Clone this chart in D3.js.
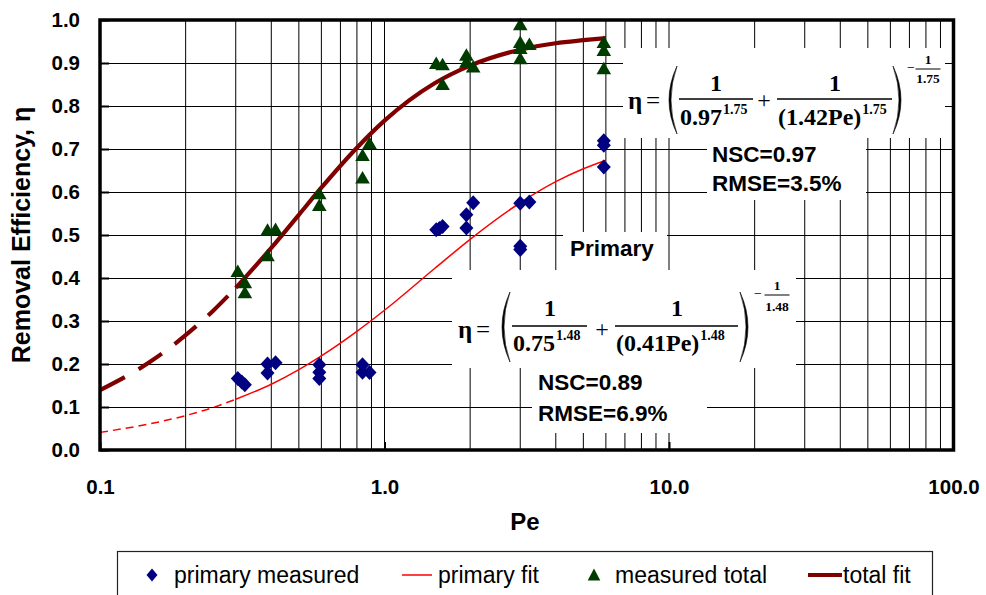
<!DOCTYPE html>
<html><head><meta charset="utf-8">
<script src="https://cdn.jsdelivr.net/npm/d3@7/dist/d3.min.js"></script>
<style>
html,body{margin:0;padding:0;background:#fff;}
svg{display:block;}
</style>
</head><body>
<svg id="chart" width="986" height="595"></svg>
<script>
// ---------------- data ----------------
const primaryPe  = [0.305,0.315,0.323, 0.388,0.388,0.414, 0.59,0.59,0.59, 0.837,0.837,0.886, 1.52,1.56,1.60, 1.94,1.94,2.05, 3.0,3.23,3.0,3.0, 5.9,5.9,5.9];
const primaryEta = [0.166,0.158,0.152, 0.179,0.200,0.203, 0.198,0.181,0.166, 0.198,0.181,0.180, 0.512,0.515,0.520, 0.547,0.516,0.575, 0.574,0.577,0.474,0.466, 0.719,0.709,0.658];

const totalPe  = [0.305,0.323,0.323, 0.388,0.388,0.414, 0.59,0.59, 0.837,0.837,0.886, 1.52,1.60,1.60, 1.94,1.94,2.05, 3.0,3.0,3.0,3.0,3.23, 5.9,5.9,5.9];
const totalEta = [0.416,0.390,0.367, 0.453,0.512,0.514, 0.597,0.570, 0.686,0.634,0.714, 0.900,0.897,0.851, 0.919,0.903,0.892, 0.990,0.949,0.935,0.911,0.944, 0.949,0.930,0.888];

// fitted curves (extrapolated dashed part, and solid part over data range)
const fitPeExt        = [0.1, 0.15, 0.2, 0.25, 0.3];
const totalFitExt     = [0.139, 0.205, 0.267, 0.324, 0.377];
const primaryFitExt   = [0.041, 0.061, 0.080, 0.099, 0.118];
const fitPe           = [0.3, 0.4, 0.5, 0.6, 0.8, 1, 1.5, 2, 3, 4, 5, 6];
const totalFit        = [0.377, 0.470, 0.547, 0.610, 0.703, 0.766, 0.853, 0.894, 0.931, 0.946, 0.953, 0.958];
const primaryFit      = [0.118, 0.153, 0.187, 0.219, 0.276, 0.325, 0.422, 0.490, 0.575, 0.624, 0.654, 0.674];

const xTickValues = [0.1, 1, 10, 100];
const xTickLabels = ["0.1", "1.0", "10.0", "100.0"];
const yTickValues = [0,0.1,0.2,0.3,0.4,0.5,0.6,0.7,0.8,0.9,1.0];

const legendLabels = ["primary measured", "primary fit", "measured total", "total fit"];

// ---------------- setup ----------------
const SANS = "'Liberation Sans', Arial, sans-serif";
const SERIF = "'Liberation Serif', 'Times New Roman', serif";
const svg = d3.select("#chart");
const L = 100, R = 953.5, T = 20, B = 450;
const x = d3.scaleLog().domain([0.1, 100]).range([L, R]);
const y = d3.scaleLinear().domain([0, 1]).range([B, T]);

svg.append("rect").attr("width", 986).attr("height", 595).attr("fill", "#fff");

// grid
const grid = svg.append("g");
grid.selectAll("line.v").data(x.ticks()).join("line")
  .attr("x1", d => x(d)).attr("x2", d => x(d)).attr("y1", T).attr("y2", B)
  .attr("stroke", "#000").attr("stroke-width", 1);
grid.selectAll("line.h").data(y.ticks(10)).join("line")
  .attr("x1", L).attr("x2", R).attr("y1", d => Math.round(y(d)) + 0.5).attr("y2", d => Math.round(y(d)) + 0.5)
  .attr("stroke", "#000").attr("stroke-width", 1);

// white annotation boxes
const boxes = [
  [623, 48, 945, 138],
  [707, 138, 866, 200],
  [563, 232, 667, 270],
  [452, 270, 796, 368],
  [532, 368, 707, 433]
];
svg.append("g").selectAll("rect").data(boxes).join("rect")
  .attr("x", d => d[0]).attr("y", d => d[1]).attr("width", d => d[2] - d[0]).attr("height", d => d[3] - d[1])
  .attr("fill", "#fff");

// fit lines
const line = d3.line().x(d => x(d[0])).y(d => y(d[1])).curve(d3.curveMonotoneX);
const zip = (a, b) => a.map((v, i) => [v, b[i]]);

svg.append("path").datum(zip(fitPeExt, primaryFitExt)).attr("d", line)
  .attr("fill", "none").attr("stroke", "#ff0000").attr("stroke-width", 1.5).attr("stroke-dasharray", "8,5");
svg.append("path").datum(zip(fitPe, primaryFit)).attr("d", line)
  .attr("fill", "none").attr("stroke", "#ff0000").attr("stroke-width", 1.5);
svg.append("path").datum(zip(fitPeExt, totalFitExt)).attr("d", line)
  .attr("fill", "none").attr("stroke", "#800000").attr("stroke-width", 4.2).attr("stroke-dasharray", "28,16");
svg.append("path").datum(zip(fitPe, totalFit)).attr("d", line)
  .attr("fill", "none").attr("stroke", "#800000").attr("stroke-width", 4.2);

// markers
const diamond = "M0,-7.5L7,0L0,7.5L-7,0Z";
const triangle = "M0,-6.5L7.3,6L-7.3,6Z";
svg.append("g").selectAll("path").data(zip(primaryPe, primaryEta)).join("path")
  .attr("d", diamond).attr("transform", d => `translate(${x(d[0])},${y(d[1])})`)
  .attr("fill", "#000080");
svg.append("g").selectAll("path").data(zip(totalPe, totalEta)).join("path")
  .attr("d", triangle).attr("transform", d => `translate(${x(d[0])},${y(d[1])})`)
  .attr("fill", "#003c00");

// axes (labels + inner ticks)
const yAxis = d3.axisLeft(y).tickValues(yTickValues).tickFormat(d3.format(".1f"))
  .tickSizeInner(-9).tickSizeOuter(0).tickPadding(20);
const gy = svg.append("g").attr("transform", `translate(${L},0)`).call(yAxis);
const xAxis = d3.axisBottom(x).tickValues(xTickValues).tickFormat((d, i) => xTickLabels[i])
  .tickSizeInner(-8).tickSizeOuter(0).tickPadding(29);
const gx = svg.append("g").attr("transform", `translate(0,${B})`).call(xAxis);
[gx, gy].forEach(g => {
  g.select(".domain").remove();
  g.selectAll(".tick line").attr("stroke", "#000").attr("stroke-width", 2);
  g.selectAll(".tick text").attr("font-family", SANS).attr("font-weight", "bold")
    .attr("font-size", 20.5).attr("fill", "#000");
});

// frame
svg.append("rect").attr("x", L).attr("y", T).attr("width", R - L).attr("height", B - T)
  .attr("fill", "none").attr("stroke", "#000").attr("stroke-width", 3.5);

// axis titles
svg.append("text").attr("x", 525).attr("y", 530).attr("text-anchor", "middle")
  .attr("font-family", SANS).attr("font-weight", "bold").attr("font-size", 24).text("Pe");
svg.append("text").attr("transform", "translate(30,235) rotate(-90)").attr("text-anchor", "middle")
  .attr("font-family", SANS).attr("font-weight", "bold").attr("font-size", 25).text("Removal Efficiency, η");

// ---------------- equations ----------------
function txt(g, s, xx, yy, size, anchor, family, weight) {
  return g.append("text").attr("x", xx).attr("y", yy).attr("font-size", size)
    .attr("font-family", family || SERIF).attr("font-weight", weight || "bold")
    .attr("text-anchor", anchor || "start").attr("fill", "#000").text(s);
}
function paren(g, x0, y0, y1, dir) {
  const ym = (y0 + y1) / 2;
  const o = x0 - dir * 16, i = x0 - dir * 12;
  g.append("path").attr("d", `M${x0},${y0}Q${o},${ym} ${x0},${y1}Q${i},${ym} ${x0},${y0}Z`)
    .attr("fill", "#000").attr("stroke", "#000").attr("stroke-width", 0.6);
}
function hbar(g, x1, x2, yy, w) {
  g.append("line").attr("x1", x1).attr("x2", x2).attr("y1", yy).attr("y2", yy)
    .attr("stroke", "#000").attr("stroke-width", w || 1.4);
}
function baseSup(g, base, sup, xx, yy, sy) {
  const t = txt(g, base, xx, yy, 24, "start");
  const w = t.node().getComputedTextLength();
  txt(g, sup, xx + w + 1, sy, 14, "start");
}
function equation(o) {
  const g = svg.append("g");
  txt(g, "η", o.eta, o.base, 25);
  txt(g, "=", o.eq, o.base, 25, "start", SERIF, "normal");
  paren(g, o.lp, o.pt, o.pb, 1);
  paren(g, o.rp, o.pt, o.pb, -1);
  // fraction 1
  txt(g, "1", o.n1, o.nb, 24, "middle");
  hbar(g, o.b1[0], o.b1[1], o.bar);
  baseSup(g, o.d1, o.exp, o.b1[0] + 1, o.db, o.sb);
  txt(g, "+", o.plus, o.base - 1, 24, "middle", SERIF, "normal");
  // fraction 2
  txt(g, "1", o.n2, o.nb, 24, "middle");
  hbar(g, o.b2[0], o.b2[1], o.bar);
  baseSup(g, o.d2, o.exp, o.b2[0] + 1, o.db, o.sb);
  // outer exponent  -1/exp
  txt(g, "\u2212", o.mx, o.my, 14, "end", SERIF, "normal");
  txt(g, "1", o.ex, o.e1, 13.5, "middle");
  hbar(g, o.ex - 12.5, o.ex + 12.5, o.ebar, 1);
  txt(g, o.exp, o.ex, o.e2, 13.5, "middle");
}
equation({eta: 628, eq: 646, base: 109, lp: 677, rp: 893, pt: 66, pb: 134,
  n1: 716, b1: [679, 753], d1: "0.97", n2: 835, b2: [777, 892], d2: "(1.42Pe)",
  nb: 91, bar: 99, db: 125, sb: 114, exp: "1.75", plus: 764,
  mx: 915, my: 72, ex: 928, e1: 64, ebar: 69, e2: 83});
equation({eta: 458, eq: 476, base: 338, lp: 510, rp: 740, pt: 292, pb: 362,
  n1: 550, b1: [512, 587], d1: "0.75", n2: 677, b2: [615, 738], d2: "(0.41Pe)",
  nb: 316, bar: 326, db: 351, sb: 340, exp: "1.48", plus: 602,
  mx: 762, my: 298, ex: 777, e1: 290, ebar: 295, e2: 311});

// stats text
const ann = svg.append("g");
txt(ann, "NSC=0.97", 712, 162, 22.5, "start", SANS);
txt(ann, "RMSE=3.5%", 712, 191, 22.5, "start", SANS);
txt(ann, "NSC=0.89", 538, 390, 22.5, "start", SANS);
txt(ann, "RMSE=6.9%", 538, 421, 22.5, "start", SANS);
txt(ann, "Primary", 570, 256, 22.5, "start", SANS);

// ---------------- legend ----------------
const lg = svg.append("g");
lg.append("rect").attr("x", 117.5).attr("y", 551.5).attr("width", 815).attr("height", 60)
  .attr("fill", "#fff").attr("stroke", "#222").attr("stroke-width", 1.2);
const ly = 575, lb = 583;
lg.append("path").attr("d", "M0,-6.5L5.5,0L0,6.5L-5.5,0Z").attr("transform", `translate(152,${ly})`).attr("fill", "#000080");
txt(lg, legendLabels[0], 174, lb, 23, "start", SANS, "normal");
lg.append("line").attr("x1", 402).attr("x2", 432).attr("y1", ly).attr("y2", ly).attr("stroke", "#ff0000").attr("stroke-width", 1.5);
txt(lg, legendLabels[1], 438, lb, 23, "start", SANS, "normal");
lg.append("path").attr("d", "M0,-6.5L6.3,5.5L-6.3,5.5Z").attr("transform", `translate(594,${ly})`).attr("fill", "#003c00");
txt(lg, legendLabels[2], 615, lb, 23, "start", SANS, "normal");
lg.append("line").attr("x1", 808).attr("x2", 842).attr("y1", ly).attr("y2", ly).attr("stroke", "#800000").attr("stroke-width", 4.2);
txt(lg, legendLabels[3], 843, lb, 23, "start", SANS, "normal");
</script>
</body></html>
